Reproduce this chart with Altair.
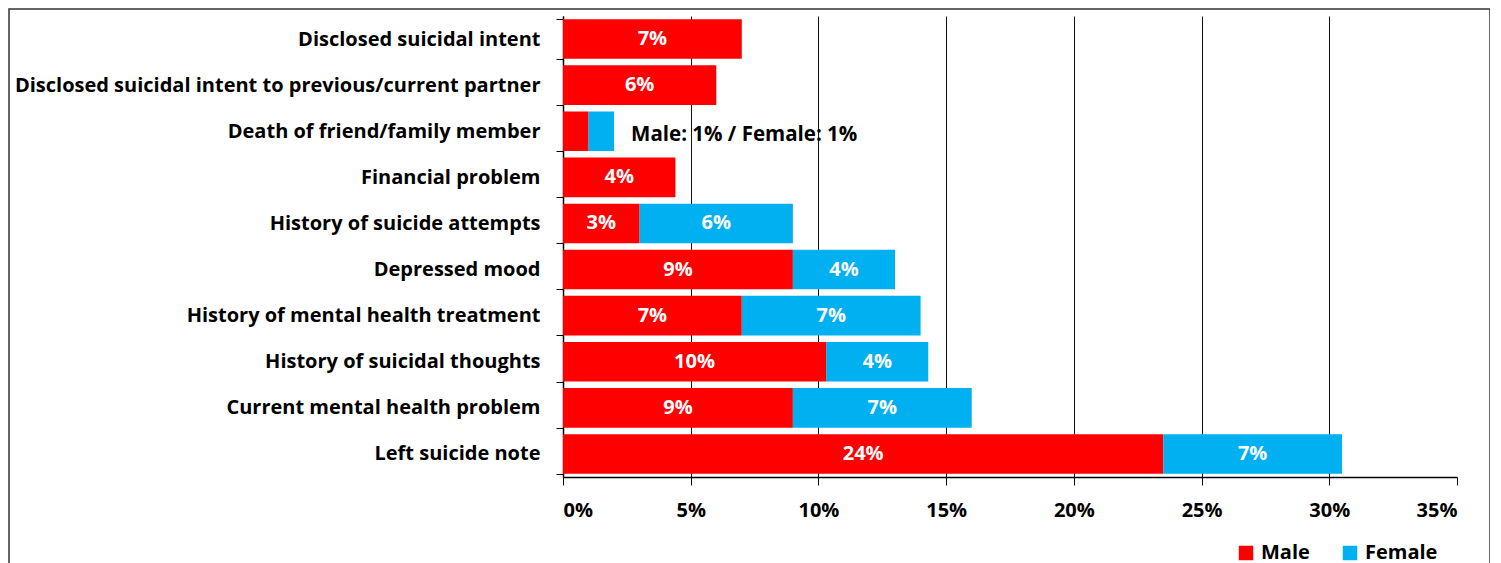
import altair as alt
import pandas as pd

categories = [
    "Disclosed suicidal intent",
    "Disclosed suicidal intent to previous/current partner",
    "Death of friend/family member",
    "Financial problem",
    "History of suicide attempts",
    "Depressed mood",
    "History of mental health treatment",
    "History of suicidal thoughts",
    "Current mental health problem",
    "Left suicide note",
]
male = [7.0, 6.0, 1.0, 4.4, 3.0, 9.0, 7.0, 10.3, 9.0, 23.5]
female = [0.0, 0.0, 1.0, 0.0, 6.0, 4.0, 7.0, 4.0, 7.0, 7.0]
male_labels = ["7%", "6%", "", "4%", "3%", "9%", "7%", "10%", "9%", "24%"]
female_labels = ["", "", "", "", "6%", "4%", "7%", "4%", "7%", "7%"]
annotation_category = "Death of friend/family member"
annotation_text = "Male: 1% / Female: 1%"
x_ticks = [0, 5, 10, 15, 20, 25, 30, 35]

rows = []
for c, m, f, ml, fl in zip(categories, male, female, male_labels, female_labels):
    rows.append({"cat": c, "sex": "Male", "order": 0, "start": 0.0, "end": m, "label": ml})
    if f > 0:
        rows.append({"cat": c, "sex": "Female", "order": 1, "start": m, "end": m + f, "label": fl})
df = pd.DataFrame(rows)
df["mid"] = (df["start"] + df["end"]) / 2

ann_idx = categories.index(annotation_category)
ann = pd.DataFrame({"cat": [annotation_category],
                    "x": [male[ann_idx] + female[ann_idx]],
                    "text": [annotation_text]})

FONT = "Open Sans"
FS = 20
W, H = 894, 461

y_enc = alt.Y("cat:N", sort=categories, title=None,
              scale=alt.Scale(paddingInner=0.14, paddingOuter=0.07),
              axis=alt.Axis(labelFont=FONT, labelFontSize=FS, labelFontWeight="bold",
                            labelColor="#000", labelPadding=16, labelLimit=600,
                            tickBand="extent", tickSize=7, tickColor="#000",
                            domainColor="#000", domainWidth=1.5, grid=False))

x_scale = alt.Scale(domain=[0, 35], nice=False)

bars = alt.Chart(df).mark_bar().encode(
    x=alt.X("start:Q", scale=x_scale, title=None,
            axis=alt.Axis(values=x_ticks, labelExpr="datum.value + '%'",
                          labelFont=FONT, labelFontSize=FS, labelFontWeight="bold",
                          labelColor="#000", labelPadding=15, tickSize=8,
                          tickColor="#000", domainColor="#000", domainWidth=1.5,
                          grid=True, gridColor="#111", gridWidth=1,
                          gridOpacity=alt.condition("datum.value >= 35", alt.value(0), alt.value(1)))),
    x2="end:Q",
    y=y_enc,
    color=alt.Color("sex:N", scale=alt.Scale(domain=["Male", "Female"], range=["#FF0000", "#00B0F0"]),
                    legend=alt.Legend(title=None, orient="none", direction="horizontal",
                                      legendX=673, legendY=527, symbolType="square",
                                      symbolSize=210, symbolStrokeWidth=0, symbolOpacity=1,
                                      labelFont=FONT, labelFontSize=FS, labelFontWeight="bold",
                                      labelColor="#000", columnPadding=30, labelOffset=5,
                                      padding=0)),
    order="order:Q",
)

labels = alt.Chart(df).mark_text(font=FONT, fontSize=FS, fontWeight="bold", color="white").encode(
    x=alt.X("mid:Q", scale=x_scale),
    y=alt.Y("cat:N", sort=categories),
    text="label:N",
)

annot = alt.Chart(ann).mark_text(font=FONT, fontSize=20.5, fontWeight="bold", color="#000",
                                 align="left", dx=17, dy=4).encode(
    x=alt.X("x:Q", scale=x_scale),
    y=alt.Y("cat:N", sort=categories),
    text="text:N",
)

border = alt.Chart(pd.DataFrame({"a": [0]})).mark_rect(
    fillOpacity=0, stroke="#333", strokeWidth=1.5
).encode(x=alt.value(-554), x2=alt.value(927), y=alt.value(-7), y2=alt.value(640))

chart = alt.layer(bars, labels, annot, border).properties(
    width=W, height=H,
    autosize=alt.AutoSizeParams(type="none"),
    padding={"left": 555, "top": 8, "right": 33, "bottom": 90},
).configure_view(strokeWidth=0)

chart.save("out.html", embed_options={"renderer": "svg", "actions": False})
